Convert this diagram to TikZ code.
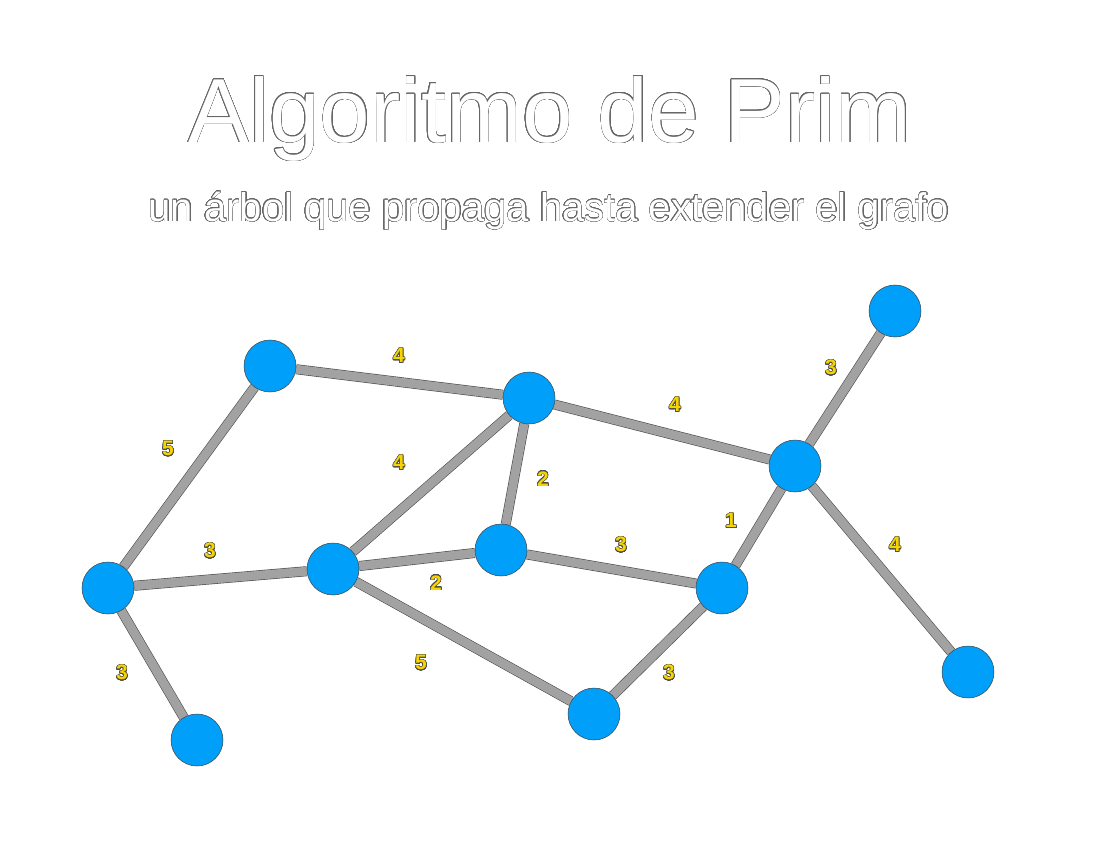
\documentclass[tikz,border=0pt]{standalone}
\usepackage{fontspec}
\setmainfont{Liberation Sans}
\usepackage[copies]{contour}
\usetikzlibrary{backgrounds}
\contournumber{32}
\definecolor{nodeblue}{RGB}{0,160,250}
\definecolor{edgegray}{RGB}{162,162,162}
\definecolor{wgold}{RGB}{245,212,0}

\begin{document}
\begin{tikzpicture}[x=1pt, y=-1pt,
   vertex/.style={circle, fill=nodeblue, draw=black!75, line width=0.5pt, minimum size=52pt, inner sep=0pt},
   edge/.style={draw=black!70, line width=0.6pt, double=edgegray, double distance=8.8pt},
   weight/.style={font=\fontsize{21}{21}\selectfont\bfseries, inner sep=0pt}]
   \useasboundingbox (0,0) rectangle (1100,850);

   \node (title) at (550,119) {\fontsize{91}{91}\selectfont\contourlength{0.5pt}\contour{black!60}{\color{white}Algoritmo de Prim}};
   \node (subtitle) at (549,211) {\fontsize{40}{40}\selectfont\contourlength{0.45pt}\contour{black!60}{\color{white}un árbol que propaga hasta extender el grafo}};

   \node (v1) at (270,366) [vertex] {};
   \node (v2) at (529,398) [vertex] {};
   \node (v3) at (895,311) [vertex] {};
   \node (v4) at (795,466) [vertex] {};
   \node (v5) at (108,588) [vertex] {};
   \node (v6) at (333,569) [vertex] {};
   \node (v7) at (501,550) [vertex] {};
   \node (v8) at (722,588) [vertex] {};
   \node (v9) at (594,714) [vertex] {};
   \node (v10) at (197,740) [vertex] {};
   \node (v11) at (968,672) [vertex] {};

   \begin{scope}[on background layer]
   \draw[edge] (v1) -- (v2);
   \draw[edge] (v1) -- (v5);
   \draw[edge] (v2) -- (v6);
   \draw[edge] (v2) -- (v7);
   \draw[edge] (v2) -- (v4);
   \draw[edge] (v3) -- (v4);
   \draw[edge] (v4) -- (v8);
   \draw[edge] (v4) -- (v11);
   \draw[edge] (v5) -- (v6);
   \draw[edge] (v5) -- (v10);
   \draw[edge] (v6) -- (v7);
   \draw[edge] (v6) -- (v9);
   \draw[edge] (v7) -- (v8);
   \draw[edge] (v8) -- (v9);
   \end{scope}

   \contourlength{0.5pt}
   \node (w12) at (399,356) [weight] {\contour{black!70}{\color{wgold}4}};
   \node (w15) at (168,449) [weight] {\contour{black!70}{\color{wgold}5}};
   \node (w26) at (399,463) [weight] {\contour{black!70}{\color{wgold}4}};
   \node (w27) at (543,479) [weight] {\contour{black!70}{\color{wgold}2}};
   \node (w24) at (675,405) [weight] {\contour{black!70}{\color{wgold}4}};
   \node (w34) at (831,368) [weight] {\contour{black!70}{\color{wgold}3}};
   \node (w48) at (731,521) [weight] {\contour{black!70}{\color{wgold}1}};
   \node (w411) at (895,545) [weight] {\contour{black!70}{\color{wgold}4}};
   \node (w56) at (210,551) [weight] {\contour{black!70}{\color{wgold}3}};
   \node (w510) at (122,673) [weight] {\contour{black!70}{\color{wgold}3}};
   \node (w67) at (436,583) [weight] {\contour{black!70}{\color{wgold}2}};
   \node (w69) at (421,663) [weight] {\contour{black!70}{\color{wgold}5}};
   \node (w78) at (621,545) [weight] {\contour{black!70}{\color{wgold}3}};
   \node (w89) at (669,673) [weight] {\contour{black!70}{\color{wgold}3}};

\end{tikzpicture}
\end{document}
